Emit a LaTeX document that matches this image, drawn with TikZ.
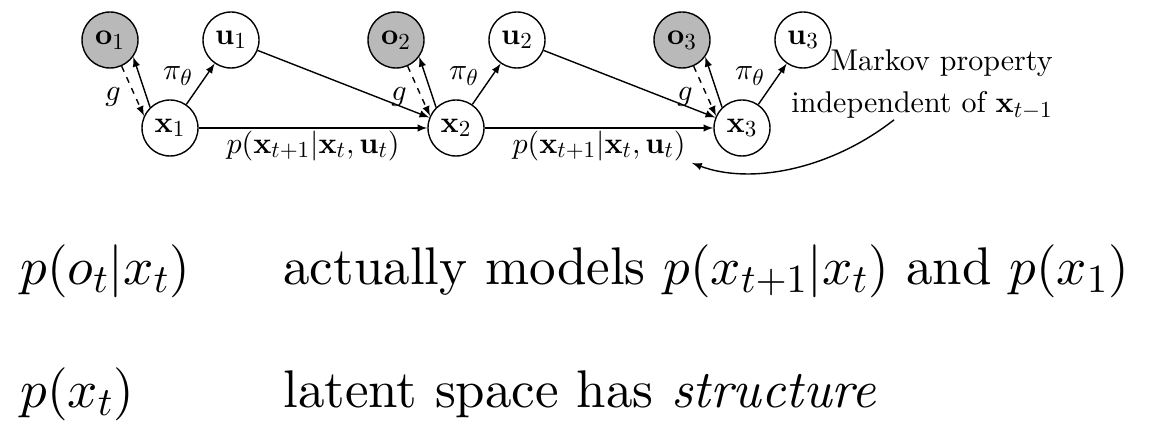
\RequirePackage{fix-cm}
\documentclass[tikz,border=0pt]{standalone}
\usepackage{amsmath}
\usepackage{fontspec}
\setmainfont{lmroman10-regular.otf}[BoldFont=lmroman10-bold.otf, ItalicFont=lmroman10-italic.otf, BoldItalicFont=lmroman10-bolditalic.otf]
\DeclareFontShape{OML}{cmm}{m}{it}{<->cmmi10}{}
\DeclareFontShape{OMS}{cmsy}{m}{n}{<->cmsy10}{}
\DeclareFontShape{OT1}{cmr}{m}{n}{<->cmr10}{}
\DeclareFontShape{OT1}{cmr}{bx}{n}{<->cmbx10}{}
\DeclareMathSizes{15}{15}{11.5}{8.5}
\DeclareMathSizes{26.5}{26.5}{20}{15}
\usepackage{tikz}

\tikzset{
    latent/.style={circle, draw, line width=0.7pt, minimum size=28pt, inner sep=0pt},
    obs/.style={latent, fill=gray!55},
    arr/.style={->, >=latex, line width=0.7pt},
    big/.style={font=\fontsize{26.5}{32}\selectfont, inner sep=0pt},
}

\begin{document}
\begin{tikzpicture}[x=0.5pt, y=-0.5pt, font=\fontsize{15}{21}\selectfont]
        \useasboundingbox (0,0) rectangle (1158,422);

        \node[obs] (o1) at (110,40) {$\mathbf{o}_1$};
        \node[obs] (o2) at (396,40) {$\mathbf{o}_2$};
        \node[obs] (o3) at (682,40) {$\mathbf{o}_3$};
        \node[latent] (u1) at (231,40) {$\mathbf{u}_1$};
        \node[latent] (u2) at (517,40) {$\mathbf{u}_2$};
        \node[latent] (u3) at (803,40) {$\mathbf{u}_3$};
        \node[latent] (x1) at (170,128) {$\mathbf{x}_1$};
        \node[latent] (x2) at (456,128) {$\mathbf{x}_2$};
        \node[latent] (x3) at (742,128) {$\mathbf{x}_3$};

        \node (g1) at (113,97) {$g$};
        \node (g2) at (399,97) {$g$};
        \node (g3) at (685,97) {$g$};
        \node (pi1) at (178,76) {$\pi_\theta$};
        \node (pi2) at (464,76) {$\pi_\theta$};
        \node (pi3) at (750,76) {$\pi_\theta$};

        \draw[arr] (x1.134) -- (o1.-36);
        \draw[arr, dashed] (o1.-66) -- (x1.155);
        \draw[arr] (x2.134) -- (o2.-36);
        \draw[arr, dashed] (o2.-66) -- (x2.155);
        \draw[arr] (x3.134) -- (o3.-36);
        \draw[arr, dashed] (o3.-66) -- (x3.155);

        \draw[arr] (x1) -- (u1);
        \draw[arr] (x2) -- (u2);
        \draw[arr] (x3) -- (u3);
        \draw[arr] (u1) -- (x2);
        \draw[arr] (u2) -- (x3);
        \draw[arr] (x1) -- node[below, inner sep=1pt] (p1) {$p(\mathbf{x}_{t+1}|\mathbf{x}_t,\mathbf{u}_t)$} (x2);
        \draw[arr] (x2) -- node[below, inner sep=1pt] (p2) {$p(\mathbf{x}_{t+1}|\mathbf{x}_t,\mathbf{u}_t)$} (x3);

        \node[align=right, anchor=base east, inner sep=0pt] (mk) at (1053,113)
            {Markov property\\independent of $\mathbf{x}_{t-1}$};
        \coordinate (pe) at (692,163);
        \draw[arr] ([xshift=-14pt]mk.south) .. controls (830,170) and (750,185) .. (pe);

        % bottom remarks
        \node[big, anchor=base west] (l1) at (20,285) {$p(o_t|x_t)$};
        \node[big, anchor=base west] (r1) at (283,285) {actually models $p(x_{t+1}|x_t)$ and $p(x_1)$};
        \node[big, anchor=base west] (l2) at (20,408) {$p(x_t)$};
        \node[big, anchor=base west] (r2) at (283,408) {latent space has \emph{structure}};
\end{tikzpicture}
\end{document}
